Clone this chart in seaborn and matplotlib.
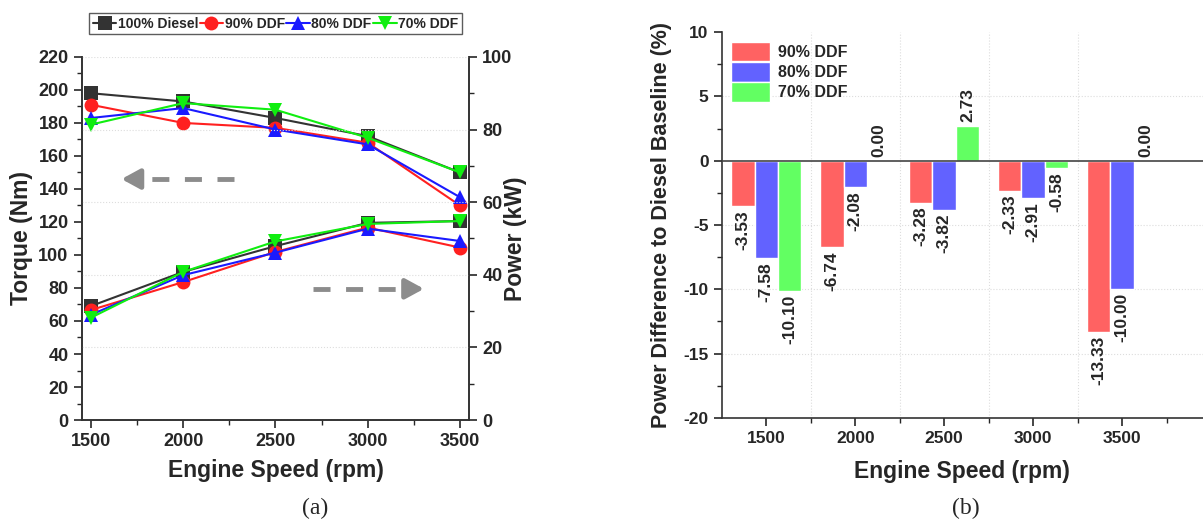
import numpy as np
import pandas as pd
import matplotlib
matplotlib.use("Agg")
import matplotlib.pyplot as plt
import seaborn as sns

# %% data
speeds = [1500, 2000, 2500, 3000, 3500]
series = ['100% Diesel', '90% DDF', '80% DDF', '70% DDF']

torque_diesel = [198, 193, 183, 172, 150]
torque_90 = [191, 180, 177, 168, 130]
torque_80 = [183, 189, 176, 167, 135]
torque_70 = [179, 192, 188, 171, 150]

power_diesel = [31.4, 40.8, 47.9, 54.3, 54.8]
power_90 = [30.3, 38.0, 46.3, 53.0, 47.5]
power_80 = [29.0, 39.9, 46.1, 52.7, 49.3]
power_70 = [28.2, 40.8, 49.2, 54.0, 54.8]

diff_series = ['90% DDF', '80% DDF', '70% DDF']
diff_90 = [-3.53, -6.74, -3.28, -2.33, -13.33]
diff_80 = [-7.58, -2.08, -3.82, -2.91, -10.00]
diff_70 = [-10.10, 0.00, 2.73, -0.58, 0.00]

line_colors = ['#333333', '#ff2020', '#1a1aff', '#10ee10']
markers = ['s', 'o', '^', 'v']
bar_colors = ['#ff6262', '#6262ff', '#62ff62']

# %% style
sns.set_style('ticks')
plt.rcParams['font.family'] = ['Liberation Sans', 'DejaVu Sans']
plt.rcParams['font.weight'] = 'bold'
plt.rcParams['axes.labelweight'] = 'bold'
plt.rcParams['axes.unicode_minus'] = False
plt.rcParams['xtick.direction'] = 'out'
plt.rcParams['ytick.direction'] = 'out'

torque = pd.DataFrame({
    'speed': speeds * 4,
    'value': torque_diesel + torque_90 + torque_80 + torque_70,
    'series': [s for s in series for _ in speeds],
})
power = pd.DataFrame({
    'speed': speeds * 4,
    'value': power_diesel + power_90 + power_80 + power_70,
    'series': [s for s in series for _ in speeds],
})
diff = pd.DataFrame({
    'speed': [str(s) for s in speeds] * 3,
    'value': diff_90 + diff_80 + diff_70,
    'series': [s for s in diff_series for _ in speeds],
})

fig = plt.figure(figsize=(12.03, 5.27), dpi=100)
ax1 = fig.add_axes([0.068, 0.203, 0.322, 0.689])
ax2 = ax1.twinx()
ax3 = fig.add_axes([0.600, 0.207, 0.400, 0.732])

pal = dict(zip(series, line_colors))
mk = dict(zip(series, markers))

# Plot (a): torque and power
sns.lineplot(data=torque, x='speed', y='value', hue='series', style='series',
             hue_order=series, style_order=series, palette=pal, markers=mk,
             dashes=False, markersize=10, linewidth=1.5, markeredgewidth=0,
             ax=ax1, zorder=3)
sns.lineplot(data=power, x='speed', y='value', hue='series', style='series',
             hue_order=series, style_order=series, palette=pal, markers=mk,
             dashes=False, markersize=10, linewidth=1.5, markeredgewidth=0,
             ax=ax2, legend=False, zorder=3)

ax1.set_xlim(1450, 3550)
ax1.set_ylim(0, 220)
ax2.set_ylim(0, 100)
ax1.set_xticks(speeds)
ax1.set_xticks([1750, 2250, 2750, 3250], minor=True)
ax1.set_yticks(range(0, 221, 20))
ax1.set_yticks(range(10, 220, 20), minor=True)
ax2.set_yticks(range(0, 101, 20))
ax2.set_yticks(range(10, 100, 20), minor=True)
ax2.grid(axis='y', color='#dddddd', linestyle=':', linewidth=0.8)
ax2.set_zorder(ax1.get_zorder() + 1)
ax2.patch.set_visible(False)

for a in (ax1, ax2):
    a.tick_params(which='major', length=6, width=1.2, labelsize=13)
    a.tick_params(which='minor', length=3.5, width=1.0)
    for side in a.spines:
        a.spines[side].set_linewidth(1.2)
        a.spines[side].set_color('#333333')
    a.spines['top'].set_visible(False)
    for lab in a.get_xticklabels() + a.get_yticklabels():
        lab.set_fontweight('bold')

ax1.set_xlabel('Engine Speed (rpm)', fontsize=16.5, labelpad=6)
ax1.set_ylabel('Torque (Nm)', fontsize=16.5, labelpad=4)
ax2.set_ylabel('Power (kW)', fontsize=16.5, labelpad=-6)

# direction arrows
arrow_kw = dict(color='#8c8c8c', linewidth=3.5, dashes=(3.5, 3.2), solid_capstyle='butt')
ax1.plot([2275, 1780], [146, 146], **arrow_kw)
ax1.annotate('', xy=(1650, 146), xytext=(1780, 146),
             arrowprops=dict(arrowstyle='-|>,head_length=1.1,head_width=0.6',
                             color='#8c8c8c', lw=3.5))
ax1.plot([2705, 3190], [79.5, 79.5], **arrow_kw)
ax1.annotate('', xy=(3320, 79.5), xytext=(3190, 79.5),
             arrowprops=dict(arrowstyle='-|>,head_length=1.1,head_width=0.6',
                             color='#8c8c8c', lw=3.5))

handles, labels = ax1.get_legend_handles_labels()
ax1.legend(handles, labels, loc='lower center', bbox_to_anchor=(0.5, 1.062),
           ncol=4, frameon=True, fancybox=False, edgecolor='#333333',
           handlelength=1.7, handletextpad=0.1, columnspacing=0.1,
           borderpad=0.25, borderaxespad=0,
           prop={'weight': 'bold', 'size': 10})
ax1.get_legend().get_frame().set_linewidth(1.0)

# Plot (b): power difference
sns.barplot(data=diff, x='speed', y='value', hue='series', hue_order=diff_series,
            palette=dict(zip(diff_series, bar_colors)), width=0.79, gap=0,
            saturation=1, ax=ax3, zorder=3)

ax3.set_xlim(-0.5, 4.91)
ax3.set_ylim(-20, 10)
ax3.set_yticks(range(-20, 11, 5))
ax3.set_yticks(np.arange(-17.5, 10, 5), minor=True)
ax3.set_xticks([0.5, 1.5, 2.5, 3.5, 4.5], minor=True)
ax3.axhline(0, color='#444444', linewidth=1.2, zorder=4)
for y in [-15, -10, -5, 5]:
    ax3.axhline(y, color='#dddddd', linestyle=':', linewidth=0.8, zorder=1)
for x in [0.5, 1.5, 2.5, 3.5]:
    ax3.axvline(x, color='#dddddd', linestyle=':', linewidth=0.8, zorder=1)

ax3.tick_params(which='major', length=6, width=1.2, labelsize=12.5)
ax3.tick_params(which='minor', length=3.5, width=1.0)
for lab in ax3.get_xticklabels() + ax3.get_yticklabels():
    lab.set_fontweight('bold')
for side in ['top', 'right']:
    ax3.spines[side].set_visible(False)
for side in ['left', 'bottom']:
    ax3.spines[side].set_linewidth(1.2)
    ax3.spines[side].set_color('#333333')

for container in ax3.containers:
    for bar in container:
        h = bar.get_height()
        xc = bar.get_x() + bar.get_width() / 2
        if h < 0:
            ax3.text(xc, h - 0.3, f'{h:.2f}', rotation=90, ha='center', va='top',
                     fontsize=12.5, fontweight='bold', zorder=5)
        else:
            ax3.text(xc, h + 0.3, f'{h:.2f}', rotation=90, ha='center', va='bottom',
                     fontsize=12.5, fontweight='bold', zorder=5)

ax3.set_xlabel('Engine Speed (rpm)', fontsize=16.5, labelpad=10)
ax3.set_ylabel('Power Difference to Diesel Baseline (%)', fontsize=15.5, labelpad=8)
leg = ax3.legend(loc='upper left', bbox_to_anchor=(0.0, 1.0), frameon=False,
                 handlelength=2.4, handleheight=1.5, handletextpad=0.5,
                 labelspacing=0.05, borderaxespad=0.2,
                 prop={'weight': 'bold', 'size': 11.5})

fig.text(0.262, 0.035, '(a)', ha='center', va='center', fontsize=17,
         family=['Liberation Serif', 'DejaVu Serif'], fontweight='normal')
fig.text(0.803, 0.035, '(b)', ha='center', va='center', fontsize=17,
         family=['Liberation Serif', 'DejaVu Serif'], fontweight='normal')

fig.savefig('out.png', dpi=100)
